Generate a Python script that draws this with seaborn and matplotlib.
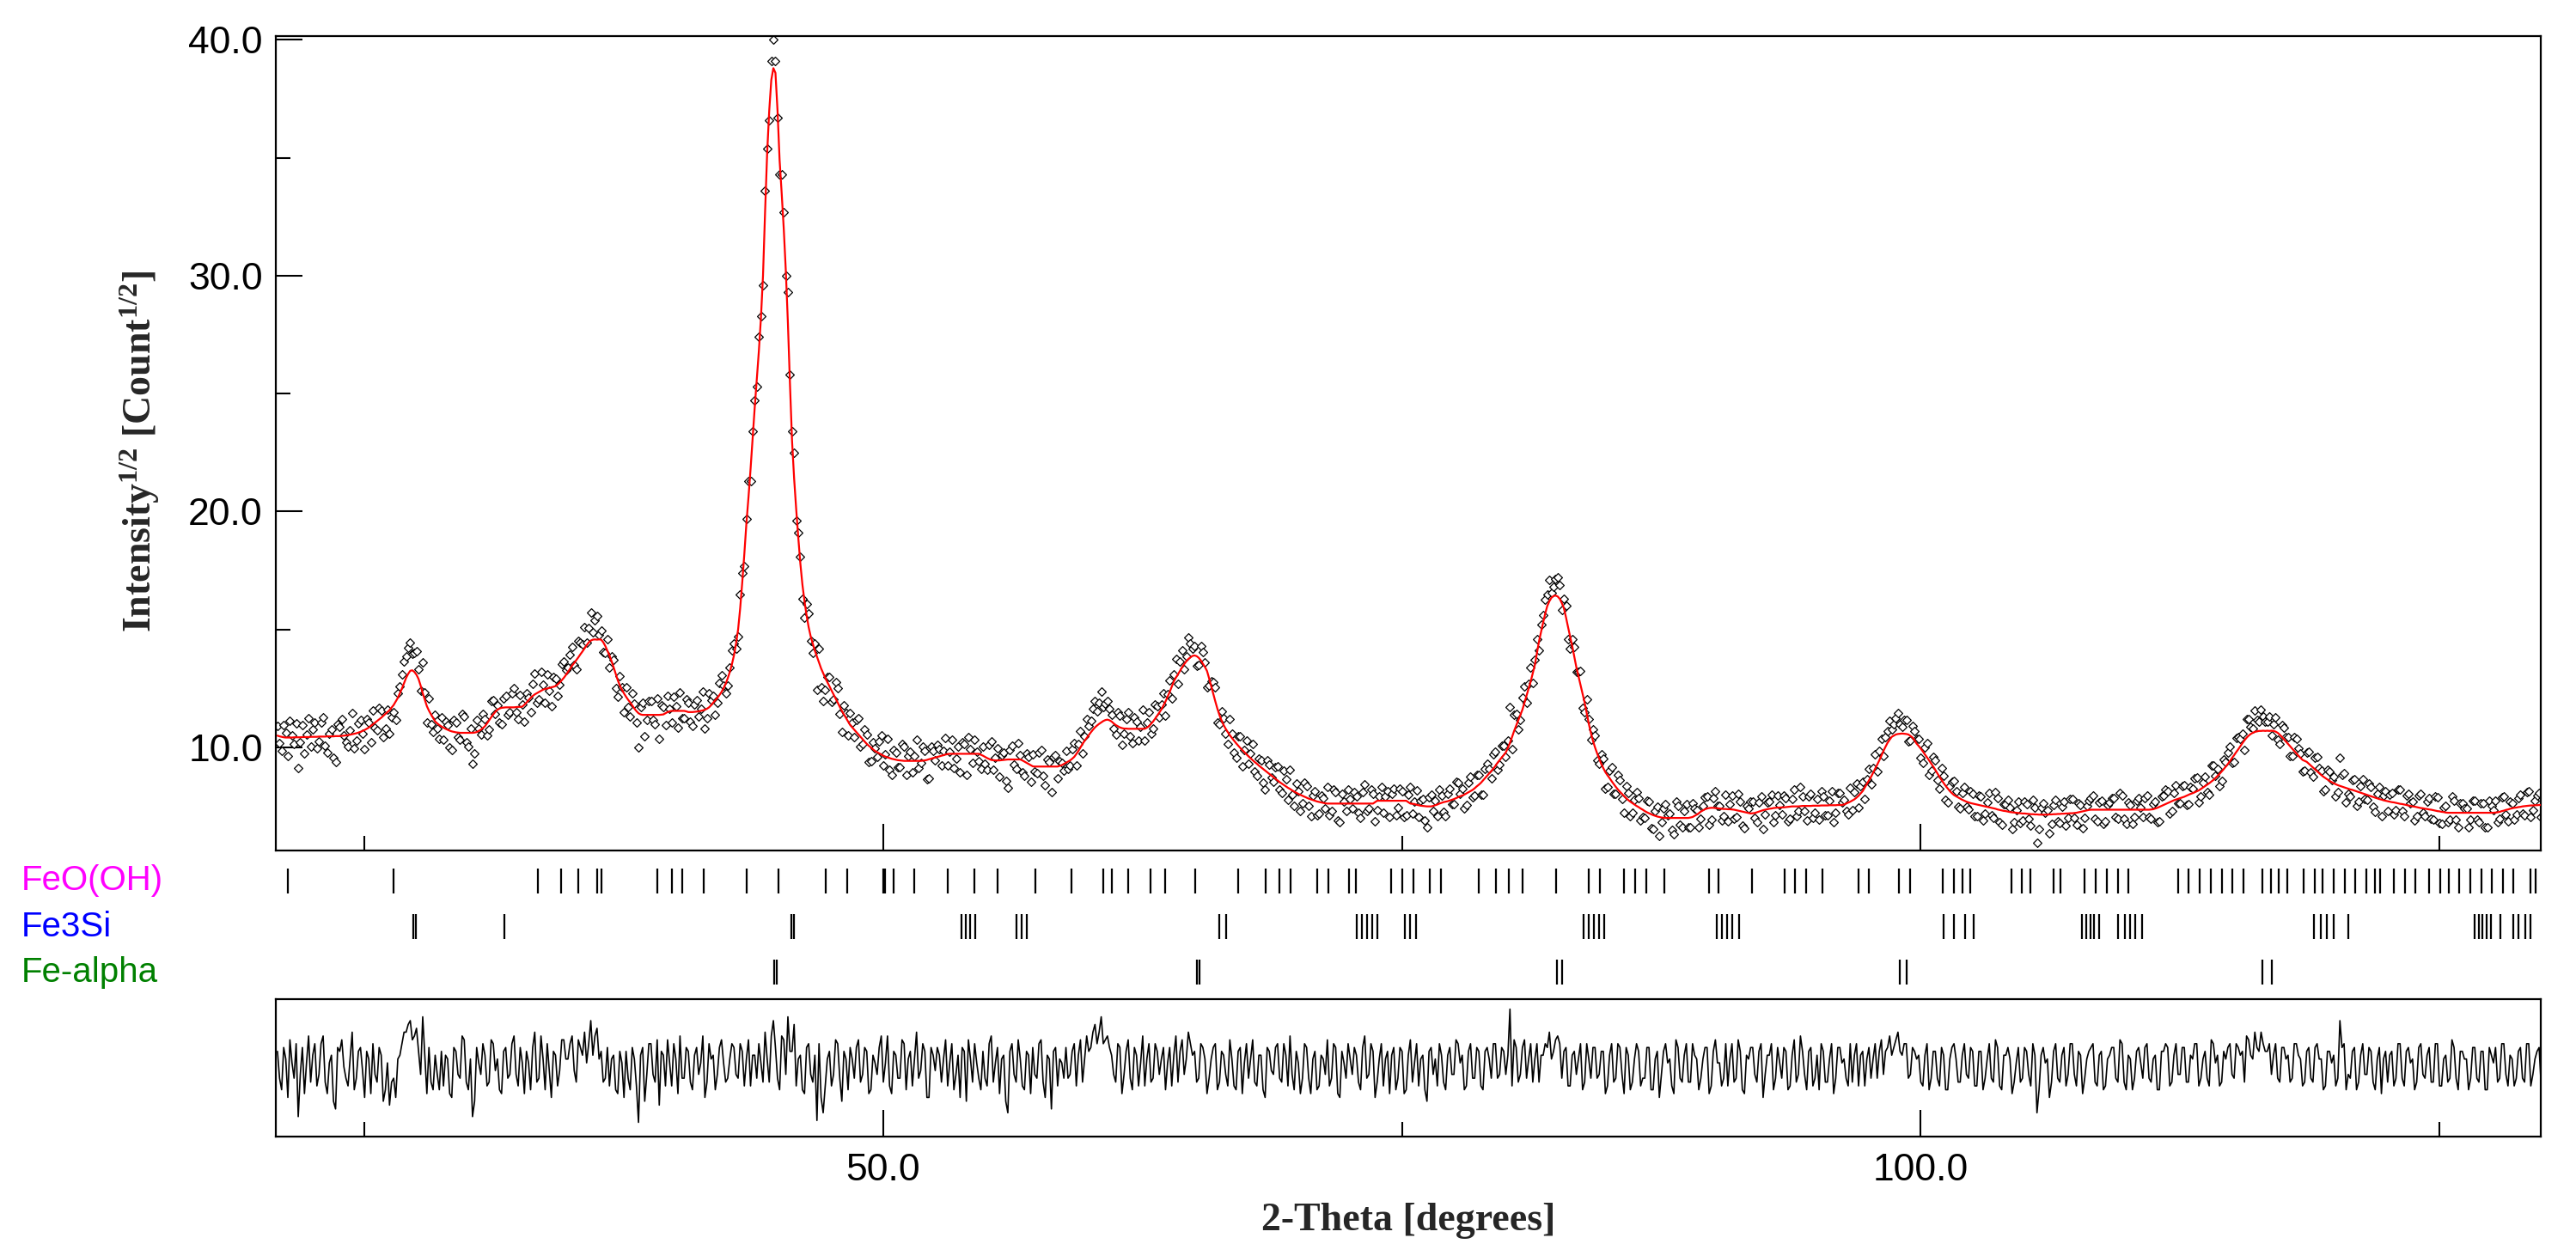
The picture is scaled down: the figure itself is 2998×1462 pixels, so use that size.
import numpy as np
import pandas as pd
import matplotlib
matplotlib.use("Agg")
import matplotlib.pyplot as plt
import matplotlib.transforms as mtransforms
from matplotlib.ticker import FixedLocator, FormatStrFormatter
import seaborn as sns

# ---------------- data ----------------
SCAN_START = 20.8   # first 2-theta of the scan (deg)
SCAN_STEP = 0.2     # spacing of the Y_CALC / Y_RESID readings (deg)
# Y_CALC_MID / Y_RESID_MID are the readings half-way between those points

Y_CALC = [
    10.5, 10.45, 10.42, 10.42, 10.43, 10.43, 10.44, 10.44, 10.45, 10.45,
    10.46, 10.46, 10.47, 10.47, 10.48, 10.48, 10.5, 10.52, 10.56, 10.6,
    10.66, 10.74, 10.84, 10.98, 11.12, 11.26, 11.42, 11.58, 11.8, 12.1,
    12.5, 12.95, 13.25, 13.2, 12.9, 12.3, 11.75, 11.4, 11.1, 10.95,
    10.84, 10.75, 10.68, 10.64, 10.62, 10.62, 10.62, 10.62, 10.65, 10.75,
    10.9, 11.15, 11.4, 11.6, 11.68, 11.7, 11.7, 11.7, 11.72, 11.73,
    11.9, 12.1, 12.25, 12.35, 12.45, 12.5, 12.55, 12.6, 12.75, 12.95,
    13.2, 13.47, 13.7, 13.95, 14.2, 14.45, 14.57, 14.57, 14.57, 14.3,
    13.9, 13.4, 12.85, 12.45, 12.15, 11.91, 11.65, 11.45, 11.38, 11.38,
    11.38, 11.38, 11.38, 11.4, 11.5, 11.55, 11.55, 11.55, 11.55, 11.5,
    11.5, 11.52, 11.55, 11.6, 11.7, 11.9, 12.1, 12.35, 12.7, 13.2,
    13.9, 15.0, 17.0, 19.5, 21.8, 24.4, 26.8, 30.0, 35.2, 38.3,
    38.6, 34.9, 32.0, 28.0, 23.0, 20.1, 17.8, 16.2, 15.1, 14.4,
    13.85, 13.35, 12.95, 12.6, 12.25, 11.9, 11.55, 11.25, 10.95, 10.75,
    10.55, 10.35, 10.15, 10.0, 9.85, 9.75, 9.65, 9.58, 9.52, 9.48,
    9.45, 9.43, 9.43, 9.43, 9.43, 9.43, 9.45, 9.5, 9.55, 9.6,
    9.65, 9.7, 9.73, 9.73, 9.73, 9.73, 9.73, 9.73, 9.73, 9.73,
    9.65, 9.55, 9.47, 9.45, 9.45, 9.47, 9.49, 9.49, 9.49, 9.49,
    9.4, 9.3, 9.2, 9.19, 9.19, 9.19, 9.19, 9.19, 9.19, 9.25,
    9.35, 9.45, 9.6, 9.85, 10.15, 10.4, 10.64, 10.85, 11.0, 11.12,
    11.18, 11.1, 10.95, 10.85, 10.8, 10.79, 10.79, 10.79, 10.79, 10.79,
    10.9, 11.1, 11.35, 11.61, 11.95, 12.35, 12.8, 13.1, 13.4, 13.65,
    13.82, 13.9, 13.8, 13.55, 13.24, 12.6, 11.95, 11.37, 10.95, 10.65,
    10.4, 10.18, 9.98, 9.8, 9.62, 9.46, 9.31, 9.16, 9.02, 8.88,
    8.74, 8.6, 8.47, 8.35, 8.24, 8.13, 8.03, 7.95, 7.87, 7.8,
    7.74, 7.69, 7.65, 7.62, 7.62, 7.62, 7.62, 7.62, 7.62, 7.62,
    7.62, 7.62, 7.62, 7.62, 7.62, 7.74, 7.74, 7.74, 7.74, 7.74,
    7.74, 7.74, 7.74, 7.62, 7.6, 7.55, 7.52, 7.5, 7.5,
    7.55, 7.62, 7.68, 7.72, 7.78, 7.85, 7.93, 8.0, 8.1, 8.2,
    8.35, 8.5, 8.7, 8.9, 9.1, 9.35, 9.57, 9.79, 10.2, 10.7,
    11.15, 11.6, 12.2, 12.8, 13.5, 14.5, 15.3, 16.0, 16.35, 16.44,
    16.3, 15.9, 15.1, 14.3, 13.4, 12.65, 11.9, 11.0, 10.28, 9.75,
    9.3, 8.95, 8.7, 8.45, 8.22, 8.03, 7.85, 7.7, 7.58, 7.47,
    7.36, 7.25, 7.17, 7.1, 7.05, 7.02, 7.01, 7.01, 7.01, 7.01,
    7.01, 7.01, 7.05, 7.15, 7.28, 7.38, 7.43, 7.44, 7.42, 7.4,
    7.39, 7.38, 7.36, 7.32, 7.28, 7.24, 7.2, 7.22, 7.28, 7.34,
    7.38, 7.41, 7.44, 7.45, 7.46, 7.48, 7.5, 7.5, 7.51, 7.52,
    7.52, 7.53, 7.53, 7.54, 7.54, 7.55, 7.55, 7.56, 7.56, 7.62,
    7.7, 7.8, 7.95, 8.15, 8.45, 8.75, 9.1, 9.45, 9.85, 10.2,
    10.45, 10.55, 10.58, 10.58, 10.55, 10.42, 10.16, 9.95, 9.7, 9.45,
    9.19, 8.9, 8.62, 8.37, 8.15, 7.98, 7.88, 7.78, 7.7, 7.64,
    7.6, 7.56, 7.52, 7.48, 7.44, 7.4, 7.35, 7.31, 7.28, 7.25,
    7.23, 7.21, 7.2, 7.18, 7.17, 7.16, 7.15, 7.15, 7.16, 7.17,
    7.18, 7.19, 7.2, 7.21, 7.22, 7.25, 7.29, 7.33, 7.36, 7.36,
    7.36, 7.36, 7.36, 7.36, 7.36, 7.36, 7.36, 7.36, 7.36, 7.36,
    7.36, 7.36, 7.36, 7.38, 7.44, 7.52, 7.6, 7.68, 7.76, 7.82,
    7.88, 7.95, 8.03, 8.1, 8.18, 8.3, 8.42, 8.55, 8.7, 8.88,
    9.08, 9.3, 9.55, 9.8, 10.05, 10.3, 10.5, 10.62, 10.68, 10.7,
    10.7, 10.7, 10.7, 10.62, 10.45, 10.25, 10.05, 9.85, 9.65, 9.47,
    9.39, 9.23, 9.07, 8.91, 8.76, 8.64, 8.53, 8.44, 8.37, 8.31,
    8.25, 8.2, 8.14, 8.08, 8.02, 7.96, 7.9, 7.84, 7.79, 7.74,
    7.7, 7.67, 7.63, 7.6, 7.56, 7.52, 7.49, 7.45, 7.42, 7.39,
    7.36, 7.32, 7.29, 7.26, 7.23, 7.23, 7.23, 7.23, 7.23, 7.23,
    7.23, 7.23, 7.23, 7.23, 7.23, 7.23, 7.25, 7.3, 7.35, 7.4,
    7.44, 7.47, 7.5, 7.52, 7.54, 7.55, 7.56, 7.57, 7.58,
]

Y_CALC_MID = [
    10.47, 10.43, 10.42, 10.42, 10.43, 10.43, 10.44, 10.44, 10.45, 10.45,
    10.46, 10.46, 10.47, 10.47, 10.48, 10.49, 10.51, 10.54, 10.58, 10.63,
    10.7, 10.79, 10.91, 11.05, 11.19, 11.34, 11.5, 11.69, 11.95, 12.3,
    12.73, 13.12, 13.27, 13.08, 12.62, 12.02, 11.56, 11.25, 11.02, 10.89,
    10.79, 10.71, 10.66, 10.63, 10.62, 10.62, 10.62, 10.63, 10.7, 10.82,
    11.02, 11.28, 11.51, 11.65, 11.69, 11.7, 11.7, 11.71, 11.72, 11.81,
    12.0, 12.18, 12.3, 12.4, 12.48, 12.52, 12.57, 12.67, 12.85, 13.07,
    13.33, 13.58, 13.82, 14.07, 14.33, 14.53, 14.58, 14.58, 14.46, 14.1,
    13.66, 13.12, 12.63, 12.29, 12.02, 11.78, 11.54, 11.4, 11.38, 11.38,
    11.38, 11.38, 11.39, 11.45, 11.53, 11.55, 11.55, 11.55, 11.53, 11.5,
    11.51, 11.53, 11.57, 11.64, 11.79, 12.0, 12.22, 12.51, 12.93, 13.52,
    14.4, 15.9, 18.2, 20.6, 23.1, 25.6, 28.2, 32.7, 37.0, 38.8,
    37.0, 33.5, 30.2, 25.4, 21.4, 18.9, 16.9, 15.6, 14.7, 14.1,
    13.6, 13.15, 12.77, 12.42, 12.07, 11.72, 11.4, 11.1, 10.85, 10.65,
    10.45, 10.25, 10.07, 9.92, 9.8, 9.7, 9.61, 9.55, 9.5, 9.46,
    9.44, 9.43, 9.43, 9.43, 9.43, 9.44, 9.47, 9.52, 9.57, 9.62,
    9.67, 9.72, 9.73, 9.73, 9.73, 9.73, 9.73, 9.73, 9.73, 9.69,
    9.6, 9.51, 9.46, 9.45, 9.46, 9.48, 9.49, 9.49, 9.49, 9.45,
    9.35, 9.25, 9.19, 9.19, 9.19, 9.19, 9.19, 9.19, 9.22, 9.3,
    9.4, 9.52, 9.72, 10.0, 10.28, 10.52, 10.75, 10.93, 11.06, 11.16,
    11.15, 11.02, 10.9, 10.82, 10.8, 10.79, 10.79, 10.79, 10.79, 10.84,
    11.0, 11.22, 11.48, 11.78, 12.15, 12.58, 12.96, 13.25, 13.53, 13.75,
    13.88, 13.87, 13.69, 13.41, 12.93, 12.27, 11.64, 11.14, 10.79, 10.52,
    10.29, 10.08, 9.89, 9.71, 9.54, 9.38, 9.23, 9.09, 8.95, 8.81,
    8.67, 8.53, 8.41, 8.29, 8.18, 8.08, 7.99, 7.91, 7.83, 7.77,
    7.71, 7.67, 7.63, 7.62, 7.62, 7.62, 7.62, 7.62, 7.62, 7.62,
    7.62, 7.62, 7.62, 7.62, 7.68, 7.74, 7.74, 7.74, 7.74, 7.74,
    7.74, 7.74, 7.68, 7.61, 7.57, 7.53, 7.51, 7.5, 7.52,
    7.58, 7.65, 7.7, 7.75, 7.81, 7.89, 7.96, 8.05, 8.15, 8.27,
    8.42, 8.6, 8.8, 9.0, 9.22, 9.46, 9.68, 9.98, 10.44, 10.93,
    11.37, 11.9, 12.5, 13.15, 14.0, 14.9, 15.68, 16.2, 16.42, 16.4,
    16.12, 15.52, 14.7, 13.85, 13.02, 12.28, 11.45, 10.62, 10.0, 9.52,
    9.12, 8.82, 8.57, 8.33, 8.12, 7.94, 7.77, 7.64, 7.52, 7.41,
    7.3, 7.21, 7.13, 7.07, 7.03, 7.01, 7.01, 7.01, 7.01, 7.01,
    7.01, 7.03, 7.1, 7.21, 7.33, 7.41, 7.44, 7.43, 7.41, 7.39,
    7.38, 7.37, 7.34, 7.3, 7.26, 7.22, 7.21, 7.25, 7.31, 7.36,
    7.4, 7.43, 7.45, 7.46, 7.47, 7.49, 7.5, 7.5, 7.52, 7.52,
    7.52, 7.53, 7.53, 7.54, 7.54, 7.55, 7.55, 7.56, 7.58, 7.66,
    7.75, 7.87, 8.05, 8.3, 8.6, 8.92, 9.27, 9.65, 10.03, 10.33,
    10.5, 10.57, 10.59, 10.57, 10.49, 10.3, 10.06, 9.83, 9.58, 9.32,
    9.05, 8.76, 8.49, 8.26, 8.06, 7.93, 7.83, 7.74, 7.67, 7.62,
    7.58, 7.54, 7.5, 7.46, 7.42, 7.37, 7.33, 7.3, 7.26, 7.24,
    7.22, 7.2, 7.19, 7.17, 7.16, 7.15, 7.15, 7.15, 7.16, 7.17,
    7.18, 7.19, 7.2, 7.21, 7.23, 7.27, 7.31, 7.35, 7.36, 7.36,
    7.36, 7.36, 7.36, 7.36, 7.36, 7.36, 7.36, 7.36, 7.36, 7.36,
    7.36, 7.36, 7.37, 7.41, 7.48, 7.56, 7.64, 7.72, 7.79, 7.85,
    7.91, 7.99, 8.06, 8.14, 8.24, 8.36, 8.48, 8.62, 8.79, 8.98,
    9.19, 9.42, 9.67, 9.92, 10.18, 10.41, 10.57, 10.66, 10.7, 10.71,
    10.71, 10.71, 10.67, 10.54, 10.35, 10.15, 9.95, 9.75, 9.56, 9.43,
    9.31, 9.15, 8.99, 8.83, 8.7, 8.58, 8.48, 8.4, 8.34, 8.28,
    8.22, 8.17, 8.11, 8.05, 7.99, 7.93, 7.87, 7.81, 7.76, 7.72,
    7.68, 7.65, 7.61, 7.58, 7.54, 7.5, 7.47, 7.43, 7.4, 7.37,
    7.34, 7.3, 7.27, 7.24, 7.23, 7.23, 7.23, 7.23, 7.23, 7.23,
    7.23, 7.23, 7.23, 7.23, 7.23, 7.24, 7.27, 7.32, 7.37, 7.42,
    7.45, 7.48, 7.51, 7.53, 7.54, 7.55, 7.56, 7.57,
]

Y_RESID = [
    0.4, -0.6, 0.2, 0.7, -0.3, -1.3, 0.5, 0.1, -0.4, 0.6,
    -0.2, 0.8, -0.7, 0.3, -1.1, 0.4, 0.0, -0.5, 0.9, -0.3,
    0.5, -0.8, 0.2, 0.6, -0.4, 0.3, -0.6, -1.0, -0.3, 0.2,
    0.6, 0.9, 1.2, 0.8, 0.4, 1.3, -0.7, -0.4, 0.3, -0.6,
    -0.5, 0.2, -0.8, 0.4, -0.3, 0.7, -0.6, -1.3, 0.5, -0.2,
    0.3, -0.4, 0.6, 0.2, -0.7, 0.5, -0.2, 0.8, -0.5, 0.1,
    0.4, -0.6, 0.9, -0.3, 0.2, 0.6, -0.8, 0.3, -0.1, 0.7,
    0.2, 0.8, -0.4, 0.5, 0.9, 0.6, 0.3, 1.0, 0.4, -0.3,
    -0.5, 0.3, -0.7, 0.1, 0.4, -0.6, 0.2, -1.45, 0.5, -0.2,
    0.6, -0.4, -1.0, 0.3, 0.7, -0.5, 0.2, 0.8, -0.3, 0.4,
    -0.6, 0.5, 0.1, -0.8, 0.6, 0.3, -0.2, 0.7, -0.4, 0.2,
    0.5, -0.3, 0.4, 0.2, -0.5, 0.3, 0.6, -0.4, 0.2, 0.8,
    0.5, -0.6, 0.7, 1.3, 0.4, -0.5, 0.3, -0.7, 0.6, -0.4,
    -1.4, -0.8, -0.5, 0.4, -0.2, 0.6, -0.9, 0.2, 0.5, -0.3,
    0.7, -0.2, 0.4, -0.6, 0.1, 0.5, -0.4, 0.8, -0.7, 0.3,
    -0.3, 0.6, 0.2, -0.5, 0.9, -0.1, 0.4, -0.8, 0.3, 0.5,
    -0.4, 0.7, 0.1, -0.6, 0.3, 0.5, -0.9, 0.2, 0.6, -0.3,
    0.4, -0.5, 0.8, 0.1, -0.7, 0.3, -1.2, 0.6, -0.4, 0.2,
    -0.6, 0.3, 0.5, -0.3, 0.7, -0.8, 0.2, 0.4, -0.5, 0.1,
    0.5, -0.2, 0.6, 0.3, -0.4, 0.8, 0.5, 1.1, 0.9, 0.6,
    0.8, 0.3, -0.4, 0.5, -0.2, 0.7, -0.6, 0.3, 0.1, -0.5,
    0.6, -0.3, 0.4, 0.2, -0.6, 0.5, 0.3, -0.4, 0.7, 0.2,
    0.6, 0.4, -0.3, 0.5, -0.7, 0.2, 0.6, -0.4, 0.3, -0.5,
    0.2, -0.6, 0.5, 0.1, -0.3, 0.7, -0.5, 0.3, -0.8, 0.4,
    -0.2, 0.6, -0.4, 0.3, 0.8, -0.6, 0.1, -0.3, 0.5, -0.7,
    0.4, -0.5, 0.2, 0.7, -0.3, 0.5, -0.8, 0.1, 0.6, -0.2,
    0.3, -0.6, 0.8, -0.2, 0.4, -0.4, 0.6, 0.2, -0.7, 0.5,
    -0.3, 0.4, -0.6, 0.7, 0.1, -0.5, 0.3, -0.9, 0.5, 0.2,
    0.6, -0.4, 0.3, -0.2, 0.7, 0.1, -0.6, 0.4, -0.3, 0.5,
    -0.5, 0.4, 0.2, 0.6, -0.3, 0.5, -0.2, 1.5, 0.7, -0.4,
    0.5, -0.3, 0.6, 0.2, -0.4, 0.3, 0.5, 0.2, 0.7, 0.6,
    0.4, -0.5, 0.3, -0.2, 0.6, -0.4, 0.2, 0.5, -0.3, 0.4,
    -0.7, 0.3, -0.4, 0.6, -0.2, 0.5, -0.6, 0.2, 0.4, -0.3,
    0.5, -0.6, 0.2, -0.8, 0.4, 0.1, -0.5, 0.7, -0.3, 0.3,
    -0.4, 0.6, 0.2, -0.3, 0.5, -0.7, 0.4, 0.1, -0.5, 0.6,
    0.2, -0.4, 0.7, -0.6, 0.3, 0.5, -0.2, 0.4, -0.8, 0.3,
    0.6, -0.3, 0.1, 0.5, -0.6, 0.3, -0.4, 0.8, -0.2, 0.4,
    -0.5, 0.3, 0.6, -0.4, 0.2, -0.7, 0.5, 0.1, -0.3, 0.6,
    0.3, -0.5, 0.4, 0.2, -0.3, 0.6, 0.4, -0.2, 0.5, 0.3,
    0.7, 0.4, 0.6, -0.3, 0.5, 0.2, -0.4, 0.3, -0.6, 0.4,
    -0.3, 0.5, -0.6, 0.2, 0.6, -0.4, 0.3, -0.2, 0.5, -0.5,
    0.4, -0.6, 0.2, -0.3, 0.7, -0.5, 0.3, 0.5, -0.7, 0.1,
    -0.4, 0.5, -0.2, 0.6, -1.2, 0.3, 0.1, -0.8, 0.4, -0.3,
    0.3, -0.5, 0.6, -0.2, 0.4, -0.7, 0.2, 0.5, -0.4, 0.3,
    -0.6, 0.2, 0.5, -0.3, 0.7, -0.4, 0.3, -0.6, 0.4, 0.1,
    0.5, -0.3, 0.2, -0.6, 0.4, 0.6, -0.5, 0.3, -0.2, 0.5,
    -0.4, 0.3, 0.6, -0.5, 0.2, -0.3, 0.7, 0.1, -0.5, 0.4,
    0.5, -0.2, 0.6, 0.3, -0.4, 0.7, 0.2, 0.5, 0.9, 0.4,
    0.6, 0.3, -0.3, 0.5, 0.2, -0.4, 0.6, 0.3, -0.5, 0.4,
    -0.3, 0.5, 0.2, -0.6, 0.4, 0.1, -0.5, 1.2, 0.6, -0.2,
    0.4, -0.6, 0.3, -0.2, 0.5, -0.4, 0.2, -0.7, 0.4, 0.3,
    -0.5, 0.6, -0.3, 0.4, 0.1, -0.6, 0.5, -0.2, 0.3, -0.4,
    0.6, -0.5, 0.2, -0.4, 0.7, -0.3, 0.4, 0.2, -0.6, 0.5,
    -0.3, 0.4, -0.6, 0.5, 0.1, -0.4, 0.6, -0.2, 0.3, -0.5,
    0.4, -0.3, 0.6, -0.5, 0.2, 0.5, -0.4, 0.3,
]

Y_RESID_MID = [
    -0.3, 0.5, -0.8, 0.1, 0.6, -0.2, -0.7, 0.8, 0.3, -0.5,
    0.6, -0.4, 0.1, -0.9, 0.5, 0.7, -0.3, 0.2, -0.6, 0.4,
    -0.1, 0.4, -0.7, -0.2, 0.5, -0.9, 0.1, -0.4, -0.8, 0.3,
    0.9, 1.1, 0.7, 1.0, -0.2, 0.3, 0.5, -0.6, -0.2, 0.4,
    0.3, -0.7, 0.5, -0.2, 0.8, -0.4, 0.2, -0.9, 0.1, 0.6,
    -0.5, 0.7, -0.1, -0.6, 0.4, -0.3, 0.6, -0.2, 0.5, -0.7,
    0.1, 0.5, -0.4, 0.8, -0.6, -0.1, 0.4, -0.5, 0.7, 0.2,
    0.6, -0.1, 0.7, 0.3, 0.1, 1.2, 0.8, 0.2, -0.4, 0.5,
    0.2, -0.6, 0.4, -0.8, -0.3, 0.5, -0.5, 0.3, -0.9, 0.6,
    -0.2, 0.7, 0.4, -0.5, 0.1, 0.6, -0.7, -0.3, 0.5, -0.4,
    0.3, -0.2, 0.8, -0.4, 0.2, -0.6, 0.5, 0.1, -0.3, 0.6,
    -0.2, 0.6, -0.5, 0.7, 0.3, -0.3, 0.1, 0.9, -0.4, 1.2,
    -0.3, 0.8, -0.2, 0.4, 1.1, 0.2, -0.6, 0.5, -0.2, 0.3,
    0.6, -1.2, 0.2, -0.5, 0.7, -0.3, 0.4, -0.6, 0.2, 0.5,
    -0.4, 0.5, -0.7, 0.3, -0.2, 0.8, 0.1, -0.5, 0.4, -0.3,
    0.7, -0.6, 0.4, 0.2, -0.3, 0.6, -0.8, 0.5, -0.1, 0.3,
    0.2, -0.5, 0.6, -0.2, -0.8, 0.4, 0.7, -0.4, 0.1, -0.6,
    -0.3, 0.6, -0.4, 0.5, 0.2, -0.9, 0.4, -0.2, 0.7, -0.5,
    0.4, -0.7, -0.2, 0.6, -0.4, 0.3, -1.1, 0.5, 0.2, -0.3,
    -0.3, 0.4, -0.5, 0.7, 0.2, 0.4, 0.9, 0.6, 1.3, 0.7,
    0.5, -0.2, 0.6, -0.7, 0.4, -0.3, 0.5, -0.5, 0.8, 0.2,
    -0.4, 0.6, -0.2, 0.5, 0.1, -0.5, 0.8, 0.4, -0.2, 0.9,
    0.3, -0.4, 0.6, 0.2, -0.3, 0.5, -0.6, 0.4, -0.2, 0.7,
    -0.5, 0.4, -0.7, 0.6, 0.2, -0.4, 0.3, -0.6, 0.5, -0.1,
    0.5, -0.3, 0.6, -0.5, -0.2, 0.4, -0.7, 0.6, -0.3, 0.2,
    -0.6, 0.3, -0.2, -0.5, 0.6, -0.7, 0.4, -0.3, 0.2, 0.5,
    -0.4, 0.5, -0.3, 0.6, -0.8, 0.2, -0.5, 0.4, 0.3, -0.6,
    0.5, -0.7, 0.3, -0.4, 0.6, 0.2, -0.6, 0.4, -0.2,
    -0.5, 0.3, -0.6, 0.5, -0.2, 0.6, 0.3, -0.5, 0.6, -0.3,
    0.4, -0.6, 0.5, -0.3, 0.6, -0.2, 0.4, 0.3, -0.5, 0.5,
    -0.2, 0.7, 0.2, -0.4, 0.6, 0.3, 0.6, 0.9, 0.4, 0.8,
    -0.3, 0.5, -0.5, 0.4, 0.2, -0.6, 0.6, -0.3, 0.5, -0.2,
    0.4, -0.5, 0.6, -0.3, 0.5, -0.7, 0.3, -0.4, 0.6, -0.5,
    -0.3, 0.5, -0.6, 0.4, -0.2, 0.6, 0.2, -0.7, 0.5, -0.4,
    0.6, -0.4, 0.3, -0.6, 0.2, 0.5, -0.5, 0.7, 0.1, -0.3,
    -0.5, 0.6, -0.3, 0.4, -0.7, 0.2, 0.5, -0.4, 0.6, -0.2,
    0.3, -0.6, 0.5, -0.3, 0.4, -0.5, 0.7, -0.2, 0.4, -0.6,
    0.5, -0.3, -0.6, 0.4, -0.4, 0.6, -0.3, 0.5, 0.2, -0.5,
    -0.4, 0.6, 0.3, -0.5, 0.5, 0.2, -0.3, 0.7, 0.4, 0.8,
    0.5, 0.9, 0.3, 0.6, -0.2, 0.4, 0.3, -0.5, 0.6, -0.3,
    0.4, -0.5, 0.3, -0.6, 0.5, 0.2, -0.4, 0.6, -0.3, 0.4,
    -0.5, 0.4, -0.3, 0.6, -0.4, 0.5, -0.6, 0.3, 0.2, -0.4,
    0.5, -0.3, 0.4, -0.5, 0.3, -0.6, 0.5, 0.2, -0.4, 0.6,
    -0.4, 0.5, -0.2, 0.6, -0.5, 0.3, -0.3, 0.4, 0.6, -0.5,
    0.4, -0.5, 0.3, 0.5, -0.4, 0.6, -0.6, 0.2, -0.3, 0.5,
    -0.3, 0.6, -0.4, 0.3, -0.6, 0.4, 0.5, -0.4, 0.6, -0.2,
    0.5, -0.4, 0.2, 0.6, -0.3, 0.4, -0.5, 0.6, 0.3, -0.4,
    0.2, 0.6, -0.3, 0.5, 0.4, 0.8, 0.3, 0.9, 0.4, 0.6,
    0.4, -0.2, 0.6, -0.4, 0.5, 0.3, -0.3, 0.6, 0.2, -0.4,
    0.5, -0.4, 0.6, 0.2, -0.5, 0.4, 0.3, -0.3, 0.5, -0.6,
    -0.3, 0.5, -0.4, 0.6, -0.2, 0.4, -0.6, 0.5, 0.2, -0.4,
    0.4, -0.3, 0.6, -0.5, 0.5, 0.2, -0.4, 0.6, -0.3, 0.5,
    -0.4, 0.6, -0.5, 0.3, -0.3, 0.5, -0.6, 0.4, 0.2, -0.3,
    0.5, -0.4, 0.4, -0.6, 0.3, 0.5, -0.3, 0.6, -0.5, 0.2,
    -0.3, 0.5, -0.4, 0.6, -0.2, 0.4, -0.5, 0.3,
]

PHASE_NAMES = ["FeO(OH)", "Fe3Si", "Fe-alpha"]
PHASE_COLORS = ["#FF00FF", "#0000FF", "#008000"]

TICKS_FEOOH = [
    21.28, 26.38, 33.35, 34.46, 35.28, 36.21, 36.41, 39.12, 39.79, 40.29,
    41.34, 43.41, 44.96, 47.23, 48.25, 50.0, 50.1, 50.49, 51.5, 53.12,
    54.38, 55.49, 57.34, 59.05, 60.59, 61.03, 61.82, 62.88, 63.59, 65.05,
    67.1, 68.42, 69.08, 69.61, 70.92, 71.46, 72.46, 72.78, 74.49, 75.02,
    75.54, 76.34, 76.87, 78.71, 79.51, 80.16, 80.82, 82.41, 83.99, 84.52,
    85.7, 86.23, 86.76, 87.63, 89.79, 90.27, 91.85, 93.43, 93.95, 94.49,
    95.27, 96.98, 97.51, 98.96, 99.48, 101.07, 101.59, 101.99, 102.38, 104.35,
    104.87, 105.27, 106.39, 106.72, 107.91, 108.44, 108.95, 109.49, 110.02, 112.39,
    112.92, 113.44, 113.97, 114.5, 115.03, 115.55, 116.47, 116.87, 117.26, 117.66,
    118.45, 118.97, 119.37, 119.9, 120.42, 120.95, 121.47, 121.87, 122.13, 122.8,
    123.33, 123.84, 124.5, 125.03, 125.43, 125.95, 126.48, 127.01, 127.53, 128.06,
    128.57, 129.38, 129.64,
]
TICKS_FE3SI = [
    27.35, 27.45, 31.72, 45.55, 45.7, 53.78, 53.98, 54.18, 54.43, 56.42,
    56.67, 56.92, 66.18, 66.53, 72.81, 73.05, 73.3, 73.55, 73.8, 75.15,
    75.39, 75.69, 83.76, 84.01, 84.26, 84.51, 84.76, 90.18, 90.43, 90.68,
    90.93, 91.23, 101.09, 101.59, 102.13, 102.53, 107.76, 107.96, 108.16, 108.35,
    108.6, 109.5, 109.85, 110.1, 110.35, 110.65, 118.96, 119.26, 119.56, 119.91,
    120.61, 126.68, 126.88, 127.08, 127.28, 127.48, 127.93, 128.57, 128.82, 129.12,
    129.37,
]
TICKS_FEALPHA = [44.75, 44.87, 65.11, 65.24, 82.45, 82.71, 99.0, 99.32, 116.47, 116.9]

X_MAJOR = [50.0, 100.0]
X_MINOR = [25.0, 75.0, 125.0]
Y_MAJOR = [10.0, 20.0, 30.0, 40.0]
Y_MINOR = [15.0, 25.0, 35.0]

# ---------------- build table ----------------
n_a = min(len(Y_CALC), len(Y_RESID))
n_b = min(len(Y_CALC_MID), len(Y_RESID_MID), n_a)
x_a = SCAN_START + SCAN_STEP * np.arange(n_a)
x_b = x_a[:n_b] + SCAN_STEP / 2
df = pd.DataFrame({
    "two_theta": np.concatenate([x_a, x_b]),
    "calc": np.concatenate([Y_CALC[:n_a], Y_CALC_MID[:n_b]]),
    "diff": np.concatenate([Y_RESID[:n_a], Y_RESID_MID[:n_b]]),
}).sort_values("two_theta").reset_index(drop=True)
df["obs"] = df["calc"] + df["diff"]

# ---------------- style ----------------
sns.set_theme(style="white", rc={
    "axes.edgecolor": "black", "axes.linewidth": 1.6,
    "xtick.color": "black", "ytick.color": "black",
    "axes.facecolor": "white", "figure.facecolor": "white",
})
plt.rcParams["font.family"] = ["Liberation Sans", "DejaVu Sans"]
plt.rcParams["mathtext.fontset"] = "custom"
plt.rcParams["mathtext.rm"] = "Liberation Serif:bold"
plt.rcParams["mathtext.bf"] = "Liberation Serif:bold"
plt.rcParams["mathtext.it"] = "Liberation Serif:bold"

W, H = 2998, 1462
fig = plt.figure(figsize=(W / 100, H / 100), dpi=100)

def frac(x0, y0, x1, y1):
    return [x0 / W, 1 - y1 / H, (x1 - x0) / W, (y1 - y0) / H]

XLIM = (20.72, 129.88)

ax = fig.add_axes(frac(321, 42, 2957, 990))
ax_t = fig.add_axes(frac(321, 998.5, 2957, 1158.5), sharex=ax)
ax_d = fig.add_axes(frac(321, 1163, 2957, 1323), sharex=ax)

# observed (open diamonds) and calculated (red line)
sns.scatterplot(data=df, x="two_theta", y="obs", ax=ax, marker="D", s=25,
                color="white", edgecolor="black", linewidth=0.9, zorder=2,
                legend=False)
sns.lineplot(data=df, x="two_theta", y="calc", ax=ax, color="red", lw=1.6,
             estimator=None, sort=False, zorder=3, legend=False)

# difference curve
sns.lineplot(data=df, x="two_theta", y="diff", ax=ax_d, color="black", lw=1.2,
             estimator=None, sort=False, legend=False)

# phase reflection markers
trans = mtransforms.blended_transform_factory(fig.transFigure, ax_t.transData)
for i, (name, col, pos) in enumerate(zip(PHASE_NAMES, PHASE_COLORS,
                                         [TICKS_FEOOH, TICKS_FE3SI, TICKS_FEALPHA])):
    ax_t.vlines(pos, i + 0.5 - 0.27, i + 0.5 + 0.27, color="black", lw=1.6)
    ax_t.text(24.6 / W, i + 0.5, name, transform=trans, color=col,
              fontsize=29, va="center", ha="left")
ax_t.set_ylim(3, 0)
ax_t.axis("off")

# ---------------- axes cosmetics ----------------
ax.set_xlim(*XLIM)
ax.set_ylim(5.63, 40.16)
for a in (ax, ax_d):
    for s in a.spines.values():
        s.set_visible(True)
        s.set_linewidth(1.6)
        s.set_color("black")
    a.xaxis.set_major_locator(FixedLocator(X_MAJOR))
    a.xaxis.set_minor_locator(FixedLocator(X_MINOR))
    a.tick_params(axis="x", which="major", direction="in", length=22, width=1.5,
                  bottom=True, top=False)
    a.tick_params(axis="x", which="minor", direction="in", length=12, width=1.5,
                  bottom=True, top=False)
    a.set_xlabel("")
    a.set_ylabel("")

ax.yaxis.set_major_locator(FixedLocator(Y_MAJOR))
ax.yaxis.set_minor_locator(FixedLocator(Y_MINOR))
ax.yaxis.set_major_formatter(FormatStrFormatter("%.1f"))
ax.tick_params(axis="y", which="major", direction="in", length=22, width=1.5,
               left=True, right=False, labelsize=32, pad=11)
ax.tick_params(axis="y", which="minor", direction="in", length=12, width=1.5,
               left=True, right=False)
ax.tick_params(axis="x", which="both", labelbottom=False)

# difference panel has its own (expanded) vertical scale
ax_d.set_ylim(-1.82, 1.76)
ax_d.set_yticks([])
ax_d.xaxis.set_major_formatter(FormatStrFormatter("%.1f"))
ax_d.tick_params(axis="x", which="major", labelsize=32, pad=14, labelbottom=True)
ax_d.tick_params(axis="x", which="minor", labelbottom=False)

ax.set_ylabel(r"Intensity$^{\mathbf{1/2}}$ [Count$^{\mathbf{1/2}}$]",
              fontfamily="Liberation Serif", fontweight="bold", fontsize=33,
              va="center", ha="center")
ax.yaxis.set_label_coords((163 - 321) / (2957 - 321), 0.49)

ax_d.set_xlabel("2-Theta [degrees]", fontfamily="Liberation Serif",
                fontweight="bold", fontsize=33, va="center", ha="center")
ax_d.xaxis.set_label_coords(0.5, -(1421 - 1323) / 160)

fig.savefig("out.png", dpi=100, facecolor="white")
